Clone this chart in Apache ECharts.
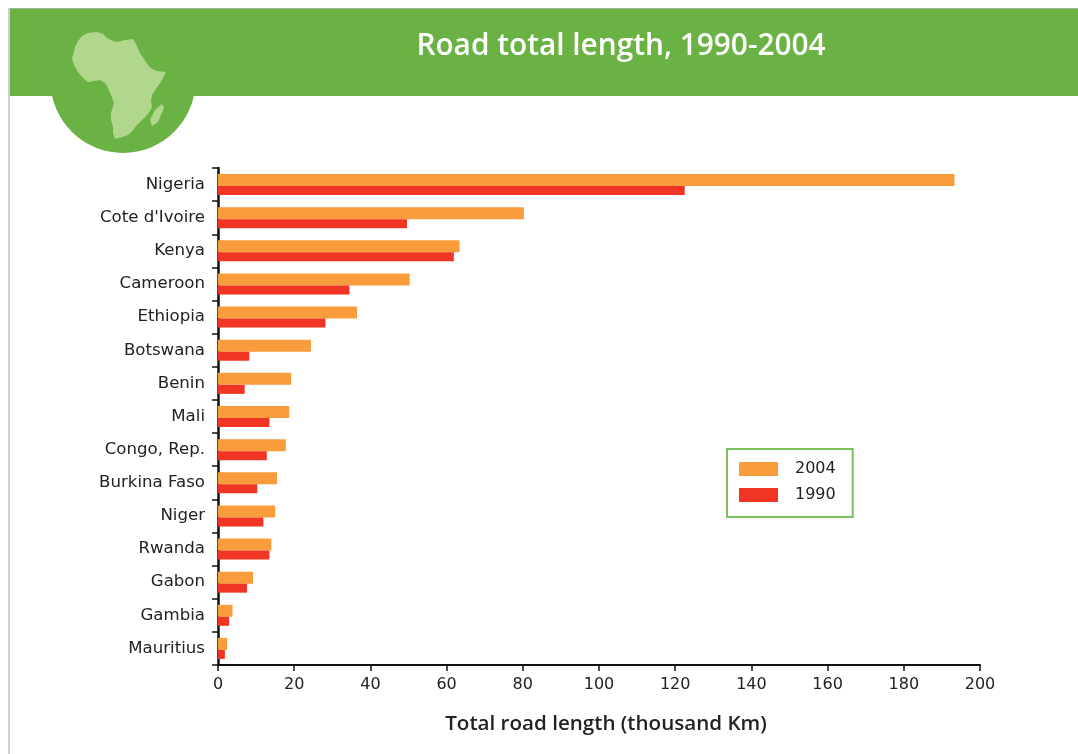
<!DOCTYPE html>
<html><head><meta charset="utf-8">
<style>html,body{margin:0;padding:0;background:#fff}#c{width:1078px;height:754px}</style>
<script src="https://cdn.jsdelivr.net/npm/echarts@6/dist/echarts.min.js"></script>
</head><body><div id="c"></div>
<script>
const titleText = 'Road total length, 1990-2004';
const axisTitle = 'Total road length (thousand Km)';
const categories = ['Nigeria',"Cote d'Ivoire",'Kenya','Cameroon','Ethiopia','Botswana','Benin','Mali','Congo, Rep.','Burkina Faso','Niger','Rwanda','Gabon','Gambia','Mauritius'];
const values2004 = [193.3,80.3,63.4,50.3,36.5,24.4,19.2,18.7,17.8,15.5,15,14,9.2,3.8,2.4];
const values1990 = [122.5,49.6,61.9,34.5,28.2,8.2,7,13.5,12.8,10.3,11.9,13.5,7.6,2.9,1.8];
const africa = [[82,36],[88,33],[97,32],[103,34],[107,38],[113,41],[117,42],[125,40],[133,39],[136,44],[140,53],[144,59],[148,65],[152,69],[157,71],[166,72],[163,78],[160,83],[156,89],[152,95],[151,101],[152,107],[150,111],[147,115],[142,120],[137,125],[133,130],[128,135],[122,137],[115,139],[113,133],[113,127],[111,120],[111,113],[114,103],[111,95],[108,88],[105,83],[100,80],[94,81],[88,82],[83,78],[78,72],[74,65],[72,58],[74,52],[75,47],[78,41]];
const madagascar = [[162,104],[164,108],[161,115],[158,122],[152,126],[150,120],[155,110]];
const font = '"Open Sans","Noto Sans",sans-serif';
const labelFont = '"DejaVu Sans",sans-serif';
const chart = echarts.init(document.getElementById('c'), null, {renderer:'canvas'});
chart.setOption({
  animation:false,
  backgroundColor:'#fff',
  title:{text:titleText,left:616,top:27,textAlign:'center',textStyle:{color:'#fff',fontFamily:font,fontSize:29.8,fontWeight:600}},
  graphic:[
    {type:'circle',z:-6,silent:true,shape:{cx:123,cy:80.5,r:72.5},style:{fill:'#6BB244'}},
    {type:'rect',z:-5,silent:true,shape:{x:9,y:9,width:1069,height:87},style:{fill:'#6BB244'}},
    {type:'rect',z:-4,silent:true,shape:{x:8,y:0,width:1070,height:8},style:{fill:'#fff'}},
    {type:'rect',z:-4,silent:true,shape:{x:8,y:8,width:1070,height:1},style:{fill:'#9fb596'}},
    {type:'rect',z:-4,silent:true,shape:{x:8,y:8,width:2,height:746},style:{fill:'#cfcfcf'}},
    {type:'polygon',z:-3,silent:true,shape:{points:africa},style:{fill:'#B1D78D'}},
    {type:'polygon',z:-3,silent:true,shape:{points:madagascar},style:{fill:'#B1D78D'}}
  ],
  legend:{
    data:['2004','1990'],orient:'vertical',left:727,top:449,
    padding:[12,17,14,12],itemGap:10,itemWidth:39,itemHeight:14,
    borderColor:'#7DBE5E',borderWidth:2,
    icon:'rect',
    textStyle:{fontFamily:labelFont,fontSize:16,color:'#222',padding:[0,0,0,12]}
  },
  grid:{left:218,right:98,top:168,bottom:89},
  xAxis:{type:'value',min:0,max:200,interval:20,
    name:axisTitle,nameLocation:'middle',nameGap:49,
    nameTextStyle:{fontFamily:font,fontSize:20.6,fontWeight:600,color:'#222',padding:[0,0,0,14]},
    splitLine:{show:false},
    axisLine:{show:true,onZero:false,lineStyle:{color:'#111',width:2}},
    axisTick:{show:true,length:6,inside:false,lineStyle:{color:'#111',width:1.5}},
    axisLabel:{fontFamily:labelFont,fontSize:16,color:'#222',margin:12}
  },
  yAxis:{type:'category',data:categories,inverse:true,
    axisLine:{show:true,lineStyle:{color:'#111',width:2.5}},
    axisTick:{show:true,length:6,alignWithLabel:false,lineStyle:{color:'#111',width:1.5}},
    axisLabel:{fontFamily:labelFont,fontSize:16.6,color:'#222',margin:13}
  },
  series:[
    {name:'2004',type:'bar',data:values2004,barWidth:12,barGap:0,itemStyle:{color:'#F99D3C'}},
    {name:'1990',type:'bar',data:values1990,barWidth:9,barGap:0,itemStyle:{color:'#F03524'}}
  ]
});
</script></body></html>
